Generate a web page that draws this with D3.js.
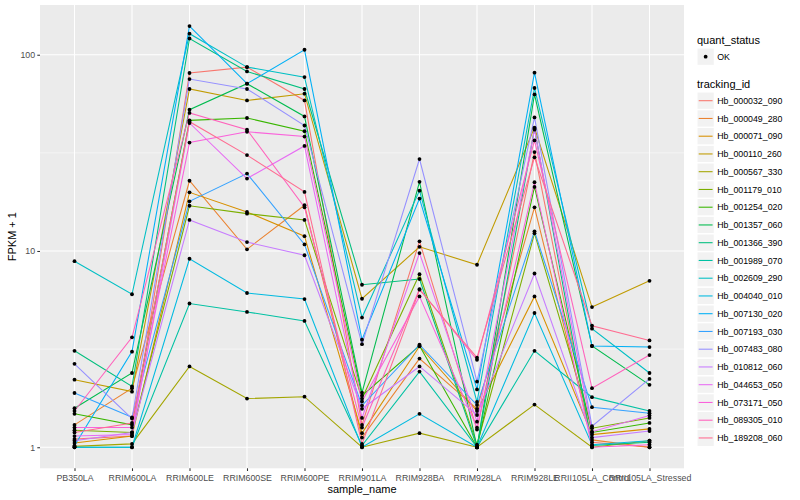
<!DOCTYPE html>
<html>
<head>
<meta charset="utf-8">
<script src="https://cdn.jsdelivr.net/npm/d3@7"></script>
<style>
  body { margin: 0; background: #fff; }
  text { font-family: "Liberation Sans", Arial, sans-serif; }
</style>
</head>
<body>
<div id="chart"></div>
<script>
// x categories
const samples = ['PB350LA', 'RRIM600LA', 'RRIM600LE', 'RRIM600SE', 'RRIM600PE', 'RRIM901LA',
    'RRIM928BA', 'RRIM928LA', 'RRIM928LE', 'RRII105LA_Control', 'RRII105LA_Stressed'];

const trackingIds = ['Hb_000032_090', 'Hb_000049_280', 'Hb_000071_090', 'Hb_000110_260', 'Hb_000567_330',
    'Hb_001179_010', 'Hb_001254_020', 'Hb_001357_060', 'Hb_001366_390', 'Hb_001989_070',
    'Hb_002609_290', 'Hb_004040_010', 'Hb_007130_020', 'Hb_007193_030', 'Hb_007483_080',
    'Hb_010812_060', 'Hb_044653_050', 'Hb_073171_050', 'Hb_089305_010', 'Hb_189208_060'];

// FPKM + 1, one value per sample
const hb_000032_090 = [1.10, 1.14, 80.7, 86.5, 58.5, 1.30, 11.2, 1.23, 31.9, 1.06, 1.00];
const hb_000049_280 = [1.30, 2.00, 22.8, 10.2, 17.1, 1.12, 2.83, 1.57, 16.7, 1.09, 1.00];
const hb_000071_090 = [1.05, 1.14, 19.9, 15.8, 11.9, 1.18, 3.27, 1.53, 5.87, 1.16, 1.24];
const hb_000110_260 = [2.21, 1.92, 66.9, 58.5, 63.3, 5.71, 10.5, 8.51, 42.5, 5.18, 7.05];
const hb_000567_330 = [1.01, 1.04, 2.58, 1.77, 1.81, 1.00, 1.18, 1.00, 1.65, 1.00, 1.08];
const hb_001179_010 = [1.22, 1.19, 17.0, 15.5, 14.4, 1.77, 7.61, 1.03, 12.3, 1.25, 1.41];
const hb_001254_020 = [1.48, 1.30, 46.3, 47.6, 40.8, 1.83, 3.29, 1.00, 21.2, 1.19, 1.33];
const hb_001357_060 = [1.58, 2.39, 52.5, 71.2, 48.5, 1.90, 22.5, 1.00, 62.8, 3.28, 2.08];
const hb_001366_390 = [3.10, 2.04, 121, 82.2, 66.9, 6.73, 7.20, 1.00, 42.0, 1.02, 1.06];
const hb_001989_070 = [1.00, 1.00, 5.40, 4.89, 4.40, 1.02, 2.43, 1.00, 3.10, 1.80, 1.53];
const hb_002609_290 = [8.87, 6.02, 128, 86.5, 76.9, 4.58, 20.3, 1.70, 67.7, 4.02, 2.39];
const hb_004040_010 = [1.00, 1.00, 9.13, 6.11, 5.69, 1.00, 1.48, 1.00, 4.83, 1.03, 1.08];
const hb_007130_020 = [1.02, 3.07, 140, 71.2, 106, 3.53, 18.5, 1.97, 81.0, 3.28, 3.24];
const hb_007193_030 = [1.89, 1.42, 17.9, 24.8, 10.8, 1.63, 3.33, 1.64, 12.6, 1.60, 1.49];
const hb_007483_080 = [2.66, 1.40, 75.2, 66.9, 43.6, 3.35, 29.4, 2.16, 47.9, 1.28, 2.23];
const hb_010812_060 = [1.08, 1.19, 14.4, 11.1, 9.51, 1.57, 2.58, 1.46, 7.68, 1.12, 1.21];
const hb_044653_050 = [1.14, 1.16, 44.9, 23.4, 34.3, 1.41, 9.76, 1.35, 41.5, 1.20, 1.45];
const hb_073171_050 = [1.26, 1.26, 35.7, 40.5, 38.3, 1.71, 5.87, 1.26, 22.4, 1.00, 1.03];
const hb_089305_010 = [1.53, 3.63, 50.5, 41.5, 16.7, 1.26, 6.40, 2.79, 36.6, 2.00, 2.95];
const hb_189208_060 = [1.19, 1.33, 45.6, 30.8, 20.0, 1.04, 6.35, 2.86, 30.0, 4.16, 3.50];

const seriesValues = [hb_000032_090, hb_000049_280, hb_000071_090, hb_000110_260, hb_000567_330,
    hb_001179_010, hb_001254_020, hb_001357_060, hb_001366_390, hb_001989_070,
    hb_002609_290, hb_004040_010, hb_007130_020, hb_007193_030, hb_007483_080,
    hb_010812_060, hb_044653_050, hb_073171_050, hb_089305_010, hb_189208_060];

const yTicks = [1, 10, 100];
const yMinorTicks = [3.162, 31.62];
const statusLabels = ['OK'];

// ggplot default hue palette for 20 levels
const palette = ['#F8766D', '#EA8331', '#D89000', '#C09B00', '#A3A500', '#7CAE00', '#39B600', '#00BB4E',
    '#00BF7D', '#00C1A3', '#00BFC4', '#00BAE0', '#00B0F6', '#35A2FF', '#9590FF', '#C77CFF',
    '#E76BF3', '#FA62DB', '#FF62BC', '#FF6C91'];

const series = trackingIds.map((id, i) => ({
    id: id,
    color: palette[i],
    values: seriesValues[i].map((v, j) => ({ sample: samples[j], value: v }))
}));

const width = 800;
const height = 500;
const panel = { left: 40, right: 684, top: 5, bottom: 468.3 };

const svg = d3.select('#chart')
    .append('svg')
    .attr('width', width)
    .attr('height', height);

svg.append('rect')
    .attr('width', width)
    .attr('height', height)
    .attr('fill', '#fff');

// Scales
const xScale = d3.scalePoint()
    .domain(samples)
    .range([panel.left, panel.right])
    .padding(0.6);

const allValues = seriesValues.flat();
const lo = Math.log10(d3.min(allValues));
const hi = Math.log10(d3.max(allValues));
const pad = (hi - lo) * 0.05;
const yScale = d3.scaleLog()
    .domain([Math.pow(10, lo - pad), Math.pow(10, hi + pad)])
    .range([panel.bottom, panel.top]);

// Panel background and grid
svg.append('rect')
    .attr('x', panel.left)
    .attr('y', panel.top)
    .attr('width', panel.right - panel.left)
    .attr('height', panel.bottom - panel.top)
    .attr('fill', '#EBEBEB');

const grid = svg.append('g').attr('class', 'grid');

grid.selectAll('.minor')
    .data(yMinorTicks)
    .enter()
    .append('line')
    .attr('x1', panel.left)
    .attr('x2', panel.right)
    .attr('y1', d => yScale(d))
    .attr('y2', d => yScale(d))
    .attr('stroke', '#fff')
    .attr('stroke-width', 0.53);

grid.selectAll('.major-y')
    .data(yTicks)
    .enter()
    .append('line')
    .attr('x1', panel.left)
    .attr('x2', panel.right)
    .attr('y1', d => yScale(d))
    .attr('y2', d => yScale(d))
    .attr('stroke', '#fff')
    .attr('stroke-width', 1.07);

grid.selectAll('.major-x')
    .data(samples)
    .enter()
    .append('line')
    .attr('x1', d => xScale(d))
    .attr('x2', d => xScale(d))
    .attr('y1', panel.top)
    .attr('y2', panel.bottom)
    .attr('stroke', '#fff')
    .attr('stroke-width', 1.07);

// Lines
const line = d3.line()
    .x(d => xScale(d.sample))
    .y(d => yScale(d.value));

svg.append('g')
    .selectAll('path')
    .data(series)
    .enter()
    .append('path')
    .attr('d', d => line(d.values))
    .attr('fill', 'none')
    .attr('stroke', d => d.color)
    .attr('stroke-width', 1.07);

// Points
svg.append('g')
    .selectAll('g')
    .data(series)
    .enter()
    .append('g')
    .selectAll('circle')
    .data(d => d.values)
    .enter()
    .append('circle')
    .attr('cx', d => xScale(d.sample))
    .attr('cy', d => yScale(d.value))
    .attr('r', 1.9)
    .attr('fill', '#000');

// Axes
const xAxis = d3.axisBottom(xScale).tickSize(2.7).tickPadding(3.4);
const xg = svg.append('g')
    .attr('transform', `translate(0, ${panel.bottom})`)
    .call(xAxis);

const yAxis = d3.axisLeft(yScale).tickValues(yTicks).tickFormat(d3.format('d')).tickSize(2.7).tickPadding(2.2);
const yg = svg.append('g')
    .attr('transform', `translate(${panel.left}, 0)`)
    .call(yAxis);

[xg, yg].forEach(g => {
    g.select('.domain').remove();
    g.selectAll('.tick line').attr('stroke', '#333').attr('stroke-width', 1.07);
    g.selectAll('.tick text')
        .attr('fill', '#4D4D4D')
        .style('font-size', '8.8px')
        .style('font-family', '"Liberation Sans", Arial, sans-serif');
});

// Axis titles
svg.append('text')
    .attr('x', (panel.left + panel.right) / 2)
    .attr('y', 493)
    .attr('text-anchor', 'middle')
    .style('font-size', '11px')
    .text('sample_name');

svg.append('text')
    .attr('transform', 'rotate(-90)')
    .attr('x', -(panel.top + panel.bottom) / 2)
    .attr('y', 16)
    .attr('text-anchor', 'middle')
    .style('font-size', '11px')
    .text('FPKM + 1');

// Legends
const legendX = 697;
const keySize = 17.28;

const statusLegend = svg.append('g');
statusLegend.append('text')
    .attr('x', legendX)
    .attr('y', 44)
    .style('font-size', '11px')
    .text('quant_status');

statusLabels.forEach((label, i) => {
    const cy = 56.7 + i * 17.75;
    statusLegend.append('rect')
        .attr('x', legendX)
        .attr('y', cy - keySize / 2)
        .attr('width', keySize)
        .attr('height', keySize)
        .attr('fill', '#F2F2F2')
        .attr('stroke', '#fff');
    statusLegend.append('circle')
        .attr('cx', legendX + keySize / 2)
        .attr('cy', cy)
        .attr('r', 1.9)
        .attr('fill', '#000');
    statusLegend.append('text')
        .attr('x', legendX + keySize + 3)
        .attr('y', cy + 3.1)
        .style('font-size', '8.8px')
        .text(label);
});

const idLegend = svg.append('g');
idLegend.append('text')
    .attr('x', legendX)
    .attr('y', 87.5)
    .style('font-size', '11px')
    .text('tracking_id');

const keys = idLegend.selectAll('.key')
    .data(series)
    .enter()
    .append('g')
    .attr('transform', (d, i) => `translate(${legendX}, ${100.7 + i * 17.75})`);

keys.append('rect')
    .attr('y', -keySize / 2)
    .attr('width', keySize)
    .attr('height', keySize)
    .attr('fill', '#F2F2F2')
    .attr('stroke', '#fff');

keys.append('line')
    .attr('x1', 1.7)
    .attr('x2', keySize - 1.7)
    .attr('stroke', d => d.color)
    .attr('stroke-width', 1.07);

keys.append('text')
    .attr('x', keySize + 3)
    .attr('y', 3.1)
    .style('font-size', '8.8px')
    .text(d => d.id);
</script>
</body>
</html>
